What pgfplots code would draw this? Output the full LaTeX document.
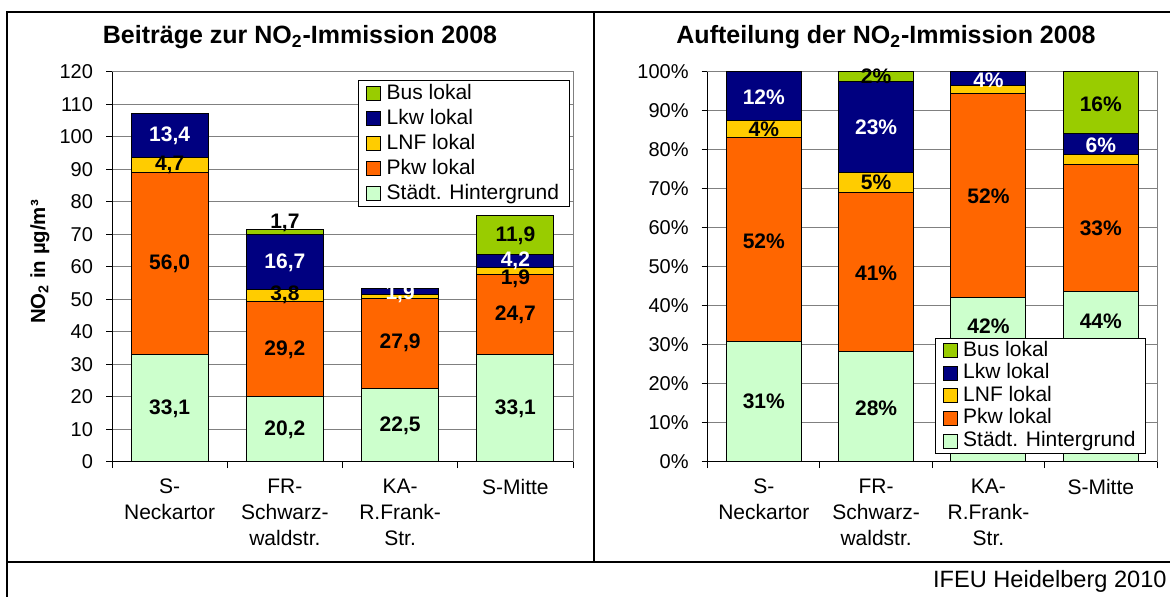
\documentclass[border=0pt]{standalone}
\usepackage{fontspec}
\setmainfont{Liberation Sans}
\usepackage{pgfplots}
\pgfplotsset{compat=1.18}
\definecolor{cHint}{HTML}{CCFFCC}
\definecolor{cPkw}{HTML}{FF6600}
\definecolor{cLNF}{HTML}{FFCC00}
\definecolor{cLkw}{HTML}{000080}
\definecolor{cBus}{HTML}{99CC00}
\newcommand{\lab}{\bfseries\fontsize{10.5}{12}\selectfont}
\pgfplotsset{panel/.style={
  scale only axis, height=195pt, ybar stacked, ymin=0,
  xmin=-0.5, xmax=3.5,
  xtick={-0.5,0.5,1.5,2.5,3.5}, xticklabels={{},{},{},{},{}},
  extra x ticks={0,1,2,3},
  extra x tick labels={S-\\Neckartor, FR-\\Schwarz-\\waldstr., KA-\\R.Frank-\\Str., S-Mitte},
  extra x tick style={major tick length=0pt, grid=none},
  tick align=outside, tick pos=left,
  major tick length=3pt,
  ymajorgrids, grid style={gray, line width=0.5pt},
  axis line style={gray, line width=0.5pt},
  tick style={black, line width=0.5pt},
  xticklabel style={align=center, font=\fontsize{10.5}{13}\selectfont, anchor=north, yshift=-5pt},
  yticklabel style={font=\fontsize{10}{12}\selectfont, xshift=-3pt},
  /pgf/number format/assume math mode=true,
  legend image code/.code={\draw[##1, line width=0.5pt] (0pt,-3.5pt) rectangle (7pt,3.5pt);},
  reverse legend,
  legend cell align=left,
  every axis plot/.append style={draw=black, line width=0.5pt},
  clip=false,
}}
\begin{document}
\begin{tikzpicture}
\useasboundingbox (0pt,0pt) rectangle (585pt,-298.5pt);
% frame
\draw[line width=1pt] (3.7pt,-298.5pt) -- (3.7pt,-6pt) -- (586pt,-6pt);
\draw[line width=1pt] (297pt,-6pt) -- (297pt,-281pt);
\draw[line width=1pt] (3.7pt,-281pt) -- (586pt,-281pt);
% titles
\node[font=\bfseries\fontsize{12.5}{14}\selectfont] at (150pt,-18.5pt) {Beiträge zur NO\textsubscript{2}-Immission 2008};
\node[font=\bfseries\fontsize{12.5}{14}\selectfont] at (443pt,-18.5pt) {Aufteilung der NO\textsubscript{2}-Immission 2008};
\node[rotate=90, font=\bfseries\fontsize{10.2}{12}\selectfont] at (20pt,-131pt) {NO\textsubscript{2} in µg/m³};
\node[anchor=east, font=\fontsize{11.8}{13}\selectfont, inner sep=0pt] at (583.5pt,-290.75pt) {IFEU Heidelberg 2010};

\begin{axis}[panel, at={(56pt,-231pt)}, anchor=south west, width=230.5pt, bar width=38.5pt,
  ymax=120, ytick={0,10,...,120},
  legend style={at={(0.9924,0.979)}, anchor=north east, font=\fontsize{10.5}{12}\selectfont,
    draw=black, line width=0.5pt, inner ysep=0.3pt, inner xsep=3.6pt, row sep=0pt,
    nodes={inner sep=1.35pt, text height=7.6pt, text depth=2.2pt},
    /tikz/every odd column/.append style={column sep=1.5pt}}]
\addplot[fill=cHint] coordinates {(0,33.1) (1,20.2) (2,22.5) (3,33.1)};
\addplot[fill=cPkw] coordinates {(0,56.0) (1,29.2) (2,27.9) (3,24.7)};
\addplot[fill=cLNF] coordinates {(0,4.7) (1,3.8) (2,1.0) (3,1.9)};
\addplot[fill=cLkw] coordinates {(0,13.4) (1,16.7) (2,1.9) (3,4.2)};
\addplot[fill=cBus] coordinates {(0,0) (1,1.7) (2,0) (3,11.9)};
\legend{Städt. Hintergrund, Pkw lokal, LNF lokal, Lkw lokal, Bus lokal}
\coordinate (LO) at (rel axis cs:0,0);
\coordinate (LT) at (rel axis cs:0,1);
\coordinate (LR) at (rel axis cs:1,0);
\coordinate (a1) at (axis cs:0,16.4);
\coordinate (a2) at (axis cs:0,61.0);
\coordinate (a3) at (axis cs:0,91.4);
\coordinate (a4) at (axis cs:0,100.4);
\coordinate (a5) at (axis cs:1,9.9);
\coordinate (a6) at (axis cs:1,34.6);
\coordinate (a7) at (axis cs:1,51.3);
\coordinate (a8) at (axis cs:1,61.3);
\coordinate (a9) at (axis cs:1,73.6);
\coordinate (a10) at (axis cs:2,11.1);
\coordinate (a11) at (axis cs:2,36.6);
\coordinate (a12) at (axis cs:2,51.8);
\coordinate (a13) at (axis cs:3,16.4);
\coordinate (a14) at (axis cs:3,45.2);
\coordinate (a15) at (axis cs:3,56.3);
\coordinate (a16) at (axis cs:3,62.0);
\coordinate (a17) at (axis cs:3,69.7);
\end{axis}
\draw[black, line width=0.5pt] (LT) -- (LO) -- (LR);
\node[font=\lab] at (a1) {33,1};
\node[font=\lab] at (a2) {56,0};
\node[font=\lab] at (a3) {4,7};
\node[font=\lab, white] at (a4) {13,4};
\node[font=\lab] at (a5) {20,2};
\node[font=\lab] at (a6) {29,2};
\node[font=\lab] at (a7) {3,8};
\node[font=\lab, white] at (a8) {16,7};
\node[font=\lab] at (a9) {1,7};
\node[font=\lab] at (a10) {22,5};
\node[font=\lab] at (a11) {27,9};
\node[font=\lab, white] at (a12) {1,9};
\node[font=\lab] at (a13) {33,1};
\node[font=\lab] at (a14) {24,7};
\node[font=\lab, inner sep=0pt] at (a15) {1,9};
\node[font=\lab, white, inner sep=0pt] at (a16) {4,2};
\node[font=\lab] at (a17) {11,9};

\begin{axis}[panel, at={(353.8pt,-231pt)}, anchor=south west, width=224.7pt, bar width=37.5pt,
  ymax=100, ytick={0,10,...,100},
  yticklabels={0\%,10\%,20\%,30\%,40\%,50\%,60\%,70\%,80\%,90\%,100\%},
  legend style={at={(0.9755,0.0205)}, anchor=south east, font=\fontsize{10.5}{12}\selectfont,
    draw=black, line width=0.5pt, inner ysep=0pt, inner xsep=3.6pt, row sep=-1.2pt,
    nodes={inner sep=1.35pt, text height=7.6pt, text depth=2.2pt},
    /tikz/every odd column/.append style={column sep=1.5pt}}]
\addplot[fill=cHint] coordinates {(0,30.877) (1,28.212) (2,42.214) (3,43.668)};
\addplot[fill=cPkw] coordinates {(0,52.239) (1,40.782) (2,52.345) (3,32.586)};
\addplot[fill=cLNF] coordinates {(0,4.384) (1,5.307) (2,1.876) (3,2.507)};
\addplot[fill=cLkw] coordinates {(0,12.5) (1,23.324) (2,3.565) (3,5.541)};
\addplot[fill=cBus] coordinates {(0,0) (1,2.374) (2,0) (3,15.698)};
\legend{Städt. Hintergrund, Pkw lokal, LNF lokal, Lkw lokal, Bus lokal}
\coordinate (RO) at (rel axis cs:0,0);
\coordinate (RT) at (rel axis cs:0,1);
\coordinate (RR) at (rel axis cs:1,0);
\coordinate (b1) at (axis cs:0,15.5);
\coordinate (b2) at (axis cs:0,56.7);
\coordinate (b3) at (axis cs:0,85.3);
\coordinate (b4) at (axis cs:0,93.5);
\coordinate (b5) at (axis cs:1,13.9);
\coordinate (b6) at (axis cs:1,48.4);
\coordinate (b7) at (axis cs:1,71.6);
\coordinate (b8) at (axis cs:1,85.7);
\coordinate (b9) at (axis cs:1,98.8);
\coordinate (b10) at (axis cs:2,34.7);
\coordinate (b11) at (axis cs:2,68.2);
\coordinate (b12) at (axis cs:2,97.9);
\coordinate (b13) at (axis cs:3,36.2);
\coordinate (b14) at (axis cs:3,59.8);
\coordinate (b15) at (axis cs:3,81.3);
\coordinate (b16) at (axis cs:3,91.7);
\end{axis}
\draw[black, line width=0.5pt] (RT) -- (RO) -- (RR);
\node[font=\lab] at (b1) {31\%};
\node[font=\lab] at (b2) {52\%};
\node[font=\lab] at (b3) {4\%};
\node[font=\lab, white] at (b4) {12\%};
\node[font=\lab] at (b5) {28\%};
\node[font=\lab] at (b6) {41\%};
\node[font=\lab] at (b7) {5\%};
\node[font=\lab, white] at (b8) {23\%};
\node[font=\lab] at (b9) {2\%};
\node[font=\lab] at (b10) {42\%};
\node[font=\lab] at (b11) {52\%};
\node[font=\lab, white] at (b12) {4\%};
\node[font=\lab] at (b13) {44\%};
\node[font=\lab] at (b14) {33\%};
\node[font=\lab, white] at (b15) {6\%};
\node[font=\lab] at (b16) {16\%};
\end{tikzpicture}
\end{document}
